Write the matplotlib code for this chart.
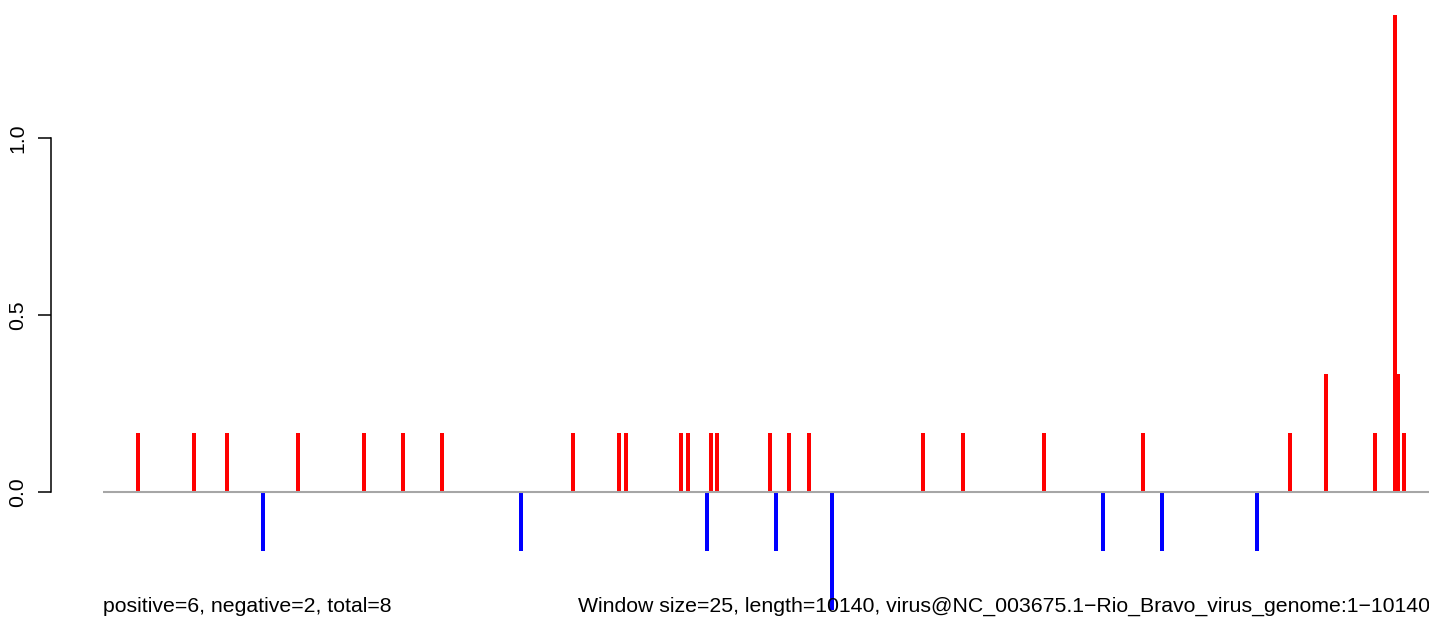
import matplotlib
matplotlib.use("Agg")
import matplotlib.pyplot as plt

plt.rcParams['font.family'] = ['Liberation Sans', 'DejaVu Sans']

# genome positions (window starts) and scores
pos_x = [268, 696, 948, 1491, 1996, 2294, 2592, 3594, 3946, 3999, 4420, 4473,
         4649, 4695, 5101, 5246, 5399, 6271, 6576, 7196, 7953, 9077, 9352,
         9727, 9880, 9903, 9949]
pos_y = [0.1667, 0.1667, 0.1667, 0.1667, 0.1667, 0.1667, 0.1667, 0.1667,
         0.1667, 0.1667, 0.1667, 0.1667, 0.1667, 0.1667, 0.1667, 0.1667,
         0.1667, 0.1667, 0.1667, 0.1667, 0.1667, 0.1667, 0.3333, 0.1667,
         1.347, 0.3333, 0.1667]
neg_x = [1224, 3197, 4619, 5146, 5575, 7647, 8098, 8825]
neg_y = [-0.1667, -0.1667, -0.1667, -0.1667, -0.3333, -0.1667, -0.1667, -0.1667]

genome_length = 10140
y_ticks = [0.0, 0.5, 1.0]
y_ticklabels = ["0.0", "0.5", "1.0"]
left_note = "positive=6, negative=2, total=8"
right_note = "Window size=25, length=10140, virus@NC_003675.1\u2212Rio_Bravo_virus_genome:1\u221210140"

W, H = 1429, 619
fig = plt.figure(figsize=(W / 100, H / 100), dpi=100)
x0 = 103 / W
ax = fig.add_axes([x0, 0.0, 1 - x0, 1.0])
ax.set_xlim(0, genome_length)
ax.set_ylim(-0.3588, 1.3898)

bw = 32
ax.bar(pos_x, pos_y, width=bw, color="#FF0000", linewidth=0, zorder=2)
ax.bar(neg_x, neg_y, width=bw, color="#0000FF", linewidth=0, zorder=2)
ax.axhline(0, color="#A6A6A6", linewidth=1.5, zorder=3)

for s in ["top", "right", "bottom"]:
    ax.spines[s].set_visible(False)
ax.spines["left"].set_position(("outward", 52 / 100 * 72))
ax.spines["left"].set_bounds(0, 1.0)
ax.spines["left"].set_linewidth(1.1)
ax.set_xticks([])
ax.set_yticks(y_ticks)
ax.set_yticklabels(y_ticklabels, rotation=90, va="center", fontsize=15.3)
ax.tick_params(axis="y", length=13 / 100 * 72, width=1.1, pad=8)
ax.patch.set_alpha(0)

fig.text(103 / W, 1 - 612 / H, left_note, ha="left", va="baseline", fontsize=15.3)
fig.text(578 / W, 1 - 612 / H, right_note, ha="left", va="baseline", fontsize=15.3)

fig.savefig("out.png", dpi=100)
